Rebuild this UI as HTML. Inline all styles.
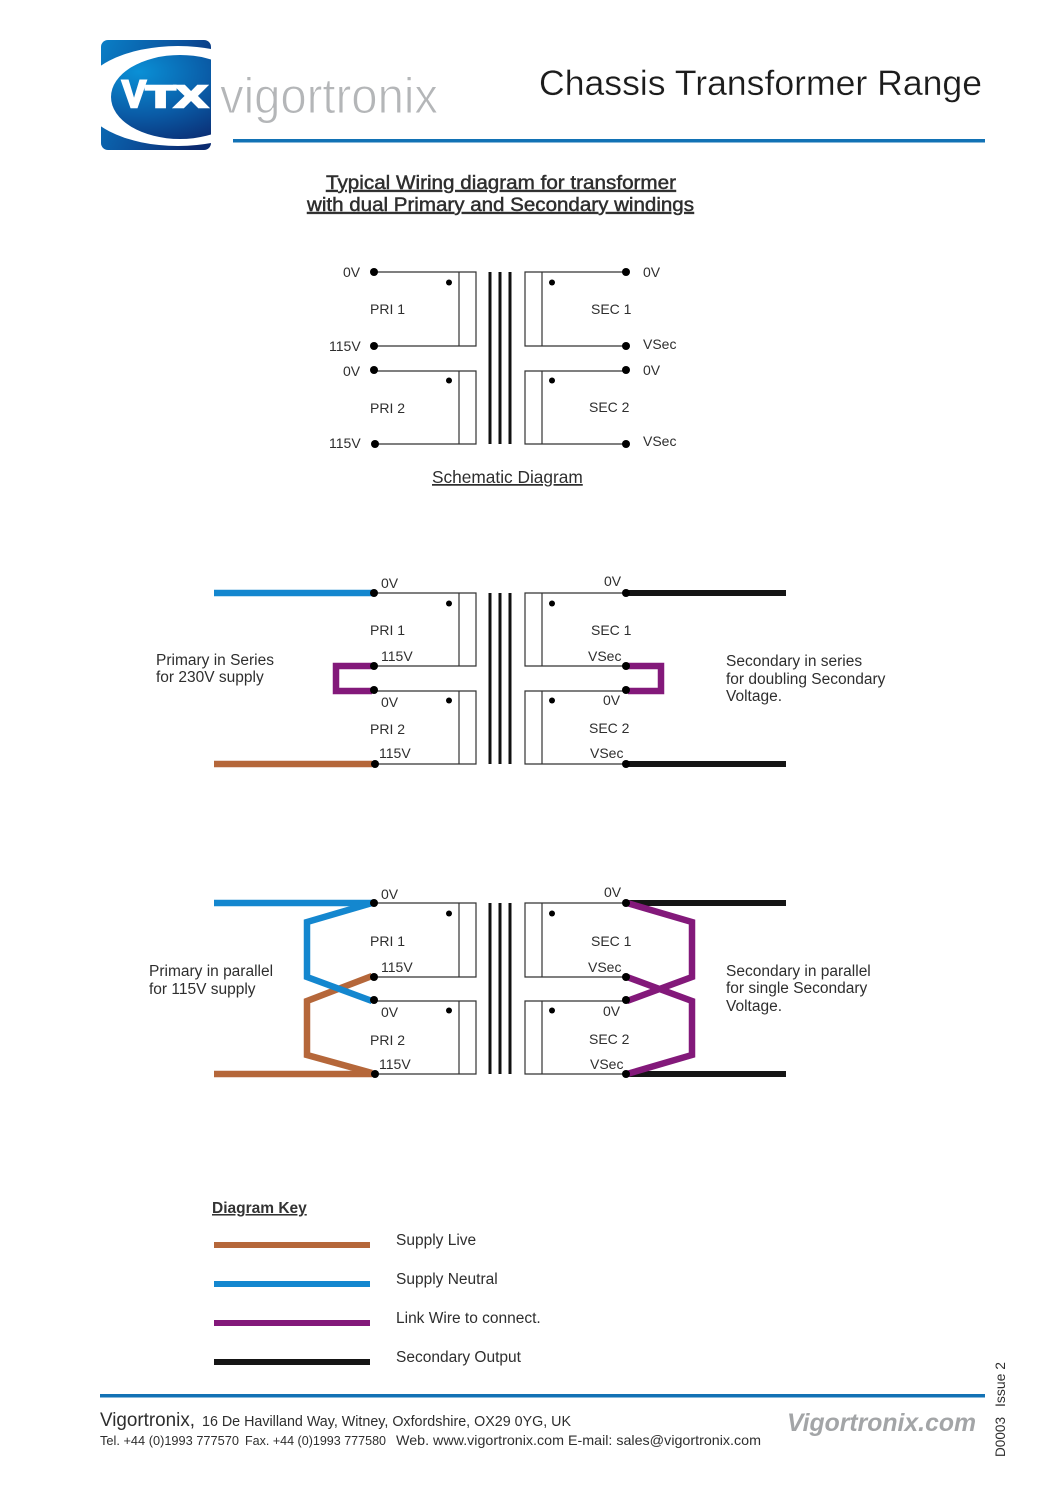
<!DOCTYPE html>
<html><head><meta charset="utf-8"><style>
html,body{margin:0;padding:0;background:#fff}
svg{display:block}
text{font-family:"Liberation Sans",Arial,sans-serif;fill:#2e2e2e;font-size:14px}
.t{font-size:14px}
.m{font-size:15.5px}
.b{stroke:#333;stroke-width:1.2;fill:none}
.core{stroke:#111;stroke-width:3}
.blue{stroke:#1487cf;fill:none;stroke-width:6.500}
.brown{stroke:#b5673a;fill:none;stroke-width:6.500}
.purple{stroke:#83197a;fill:none;stroke-width:6.500}
.black{stroke:#151515;fill:none;stroke-width:6}
</style></head><body>
<svg width="1061" height="1500" viewBox="0 0 1061 1500" xmlns="http://www.w3.org/2000/svg">
<defs>
<linearGradient id="lg" x1="0" y1="0.1" x2="1" y2="0.6"><stop offset="0" stop-color="#0a7cc4"/><stop offset="0.6" stop-color="#0b4f9a"/><stop offset="1" stop-color="#0a2a70"/></linearGradient>
<radialGradient id="rg" cx="0.2" cy="0.2" r="0.95"><stop offset="0" stop-color="#0a90d6"/><stop offset="0.55" stop-color="#0a5ba6"/><stop offset="1" stop-color="#0b2c72"/></radialGradient>
<clipPath id="cp"><rect x="101" y="40" width="110" height="110" rx="7"/></clipPath>
<g id="d1">
<circle cx="449" cy="10.500" r="3"/><circle cx="552" cy="10.500" r="3"/>
<circle cx="374" cy="0" r="4"/><circle cx="626" cy="0" r="4"/>
</g>
</defs>
<!-- logo -->
<g clip-path="url(#cp)">
<rect x="101" y="40" width="110" height="110" fill="url(#lg)"/>
<ellipse cx="178" cy="96" rx="97" ry="50" fill="#fff"/>
<ellipse cx="180" cy="97" rx="69" ry="42" fill="url(#rg)"/>
</g>
<text x="122" y="107" style="font-size:38px;font-weight:bold;fill:#fff;stroke:#fff;stroke-width:2.500" textLength="24" lengthAdjust="spacingAndGlyphs">V</text>
<text x="146" y="107" style="font-size:31px;font-weight:bold;fill:#fff;stroke:#fff;stroke-width:2.500" textLength="61" lengthAdjust="spacingAndGlyphs">TX</text>
<text x="220" y="113" style="font-size:50px;fill:#b4b6b8;stroke:#fff;stroke-width:1" textLength="218" lengthAdjust="spacingAndGlyphs">vigortronix</text>
<text x="539" y="95" style="font-size:35px;fill:#1c1c1c;stroke:#fff;stroke-width:.3" textLength="443" lengthAdjust="spacingAndGlyphs">Chassis Transformer Range</text>
<rect x="233" y="139" width="752" height="3.500" fill="#1272b5"/>
<!-- heading -->
<text x="326" y="189" style="font-size:19px;text-decoration:underline;stroke:#2e2e2e;stroke-width:.45" textLength="350" lengthAdjust="spacingAndGlyphs">Typical Wiring diagram for transformer</text>
<text x="307" y="211" style="font-size:19px;text-decoration:underline;stroke:#2e2e2e;stroke-width:.45" textLength="387" lengthAdjust="spacingAndGlyphs">with dual Primary and Secondary windings</text>
<!-- schematic -->
<path class="b" d="M374 272H476V346H374M459 272V346M374 371H476V444H374M459 371V444"/>
<path class="b" d="M626 272H525V346H626M542 272V346M626 371H525V444H626M542 371V444"/>
<path class="core" d="M490 272V444M500 272V444M510 272V444"/>
<use href="#d1" y="272"/><use href="#d1" y="370"/>
<circle cx="374" cy="346" r="4"/><circle cx="375" cy="444" r="4"/><circle cx="626" cy="346" r="4"/><circle cx="626" cy="444" r="4"/>
<text class="t" x="343" y="277">0V</text><text class="t" x="329" y="351">115V</text><text class="t" x="343" y="376">0V</text><text class="t" x="329" y="448">115V</text>
<text class="t" x="643" y="277">0V</text><text class="t" x="643" y="349">VSec</text><text class="t" x="643" y="375">0V</text><text class="t" x="643" y="446">VSec</text>
<text class="t" x="370" y="314">PRI 1</text><text class="t" x="370" y="413">PRI 2</text><text class="t" x="591" y="314">SEC 1</text><text class="t" x="589" y="412">SEC 2</text>
<text x="432" y="483" style="font-size:17.300px;text-decoration:underline">Schematic Diagram</text>
<!-- series -->
<path class="blue" d="M214 593H372"/><path class="brown" d="M214 764H372"/>
<path class="black" d="M628 593H786M628 764H786"/>
<path class="purple" d="M372 666H336V691H372"/><path class="purple" d="M628 666H661V691H628"/>
<path class="b" d="M374 593H476V666H374M459 593V666M374 691H476V764H374M459 691V764"/>
<path class="b" d="M626 593H525V666H626M542 593V666M626 691H525V764H626M542 691V764"/>
<path class="core" d="M490 593V764M500 593V764M510 593V764"/>
<use href="#d1" y="593"/><use href="#d1" y="690"/>
<circle cx="374" cy="666" r="4"/><circle cx="375" cy="764" r="4"/><circle cx="626" cy="666" r="4"/><circle cx="626" cy="764" r="4"/>
<text class="t" x="381" y="588">0V</text><text class="t" x="381" y="661">115V</text><text class="t" x="381" y="707">0V</text><text class="t" x="379" y="758">115V</text>
<text class="t" x="604" y="586">0V</text><text class="t" x="588" y="661">VSec</text><text class="t" x="603" y="705">0V</text><text class="t" x="590" y="758">VSec</text>
<text class="t" x="370" y="635">PRI 1</text><text class="t" x="370" y="734">PRI 2</text><text class="t" x="591" y="635">SEC 1</text><text class="t" x="589" y="733">SEC 2</text>
<text class="m" x="156" y="665">Primary in Series</text><text class="m" x="156" y="682">for 230V supply</text>
<text class="m" x="726" y="666">Secondary in series</text><text class="m" x="726" y="684">for doubling Secondary</text><text class="m" x="726" y="701">Voltage.</text>
<!-- parallel -->
<path class="brown" d="M214 1074H372"/><path class="brown" d="M372 976L307 1001V1055L372 1073"/>
<path class="blue" d="M214 903H372"/><path class="blue" d="M372 903L307 922V977L372 1001"/>
<path class="black" d="M628 903H786M628 1074H786"/>
<path class="purple" d="M627 903L692 922V977L627 1001"/><path class="purple" d="M627 977L692 1001V1055L627 1074"/>
<path class="b" d="M374 903H476V977H374M459 903V977M374 1001H476V1074H374M459 1001V1074"/>
<path class="b" d="M626 903H525V977H626M542 903V977M626 1001H525V1074H626M542 1001V1074"/>
<path class="core" d="M490 903V1074M500 903V1074M510 903V1074"/>
<use href="#d1" y="903"/><use href="#d1" y="1000"/>
<circle cx="374" cy="977" r="4"/><circle cx="375" cy="1074" r="4"/><circle cx="626" cy="977" r="4"/><circle cx="626" cy="1074" r="4"/>
<text class="t" x="381" y="899">0V</text><text class="t" x="381" y="972">115V</text><text class="t" x="381" y="1017">0V</text><text class="t" x="379" y="1069">115V</text>
<text class="t" x="604" y="897">0V</text><text class="t" x="588" y="972">VSec</text><text class="t" x="603" y="1016">0V</text><text class="t" x="590" y="1069">VSec</text>
<text class="t" x="370" y="946">PRI 1</text><text class="t" x="370" y="1045">PRI 2</text><text class="t" x="591" y="946">SEC 1</text><text class="t" x="589" y="1044">SEC 2</text>
<text class="m" x="149" y="976">Primary in parallel</text><text class="m" x="149" y="994">for 115V supply</text>
<text class="m" x="726" y="976">Secondary in parallel</text><text class="m" x="726" y="993">for single Secondary</text><text class="m" x="726" y="1011">Voltage.</text>
<!-- key -->
<text x="212" y="1213" style="font-size:15.500px;font-weight:bold;text-decoration:underline;fill:#333">Diagram Key</text>
<rect x="214" y="1242" width="156" height="6" fill="#b5673a"/>
<rect x="214" y="1281" width="156" height="6" fill="#1487cf"/>
<rect x="214" y="1320" width="156" height="6" fill="#83197a"/>
<rect x="214" y="1359" width="156" height="6" fill="#151515"/>
<text class="m" x="396" y="1245">Supply Live</text>
<text class="m" x="396" y="1284">Supply Neutral</text>
<text class="m" x="396" y="1323">Link Wire to connect.</text>
<text class="m" x="396" y="1362">Secondary Output</text>
<!-- footer -->
<rect x="100" y="1394" width="885" height="3.500" fill="#1272b5"/>
<text x="100" y="1426" style="font-size:19px" textLength="95" lengthAdjust="spacingAndGlyphs">Vigortronix,</text>
<text x="202" y="1426" style="font-size:14.500px" textLength="369" lengthAdjust="spacingAndGlyphs">16 De Havilland Way, Witney, Oxfordshire, OX29 0YG, UK</text>
<text x="100" y="1445" style="font-size:13px" textLength="139" lengthAdjust="spacingAndGlyphs">Tel. +44 (0)1993 777570</text>
<text x="245" y="1445" style="font-size:13px" textLength="141" lengthAdjust="spacingAndGlyphs">Fax. +44 (0)1993 777580</text>
<text x="396" y="1445" style="font-size:14px" textLength="365" lengthAdjust="spacingAndGlyphs">Web. www.vigortronix.com E-mail: sales@vigortronix.com</text>
<text x="787" y="1431" style="font-size:25px;font-weight:bold;font-style:italic;fill:#a3a5a7" textLength="189" lengthAdjust="spacingAndGlyphs">Vigortronix.com</text>
<text transform="translate(1005 1457) rotate(-90)" style="font-size:13.500px" textLength="40" lengthAdjust="spacingAndGlyphs">D0003</text>
<text transform="translate(1005 1407) rotate(-90)" style="font-size:13.500px" textLength="45" lengthAdjust="spacingAndGlyphs">Issue 2</text>
</svg>
</body></html>
